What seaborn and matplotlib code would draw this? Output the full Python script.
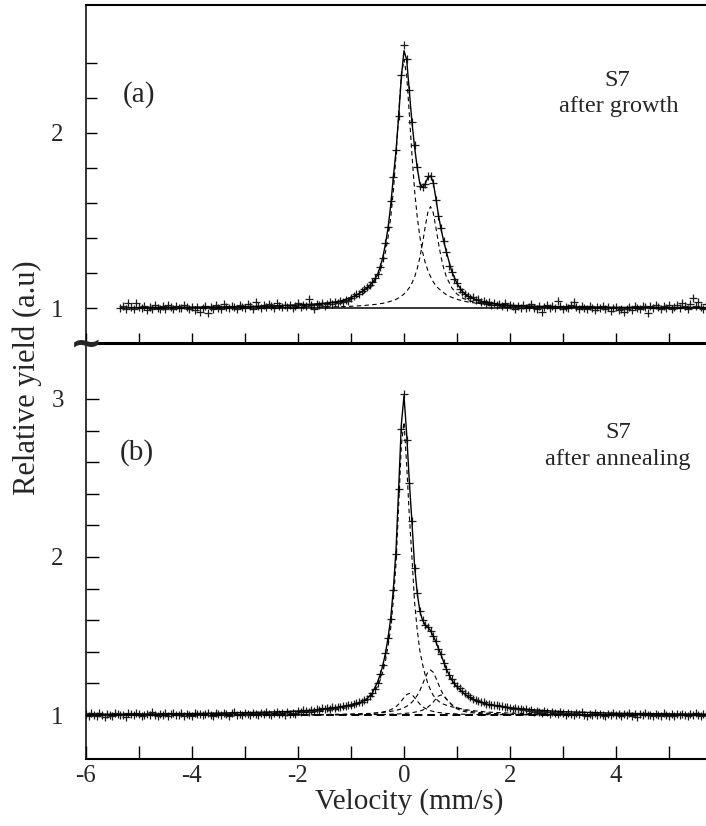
import matplotlib
matplotlib.use("Agg")
import matplotlib.pyplot as plt
from matplotlib.ticker import FixedLocator, FixedFormatter
import seaborn as sns

# velocity of each channel (mm/s), same for both spectra
velocity = [
    -6.00, -5.95, -5.90, -5.85, -5.80, -5.75, -5.70, -5.65, -5.60, -5.55,
    -5.50, -5.45, -5.40, -5.35, -5.30, -5.25, -5.20, -5.15, -5.10, -5.05,
    -5.00, -4.95, -4.90, -4.85, -4.80, -4.75, -4.70, -4.65, -4.60, -4.55,
    -4.50, -4.45, -4.40, -4.35, -4.30, -4.25, -4.20, -4.15, -4.10, -4.05,
    -4.00, -3.95, -3.90, -3.85, -3.80, -3.75, -3.70, -3.65, -3.60, -3.55,
    -3.50, -3.45, -3.40, -3.35, -3.30, -3.25, -3.20, -3.15, -3.10, -3.05,
    -3.00, -2.95, -2.90, -2.85, -2.80, -2.75, -2.70, -2.65, -2.60, -2.55,
    -2.50, -2.45, -2.40, -2.35, -2.30, -2.25, -2.20, -2.15, -2.10, -2.05,
    -2.00, -1.95, -1.90, -1.85, -1.80, -1.75, -1.70, -1.65, -1.60, -1.55,
    -1.50, -1.45, -1.40, -1.35, -1.30, -1.25, -1.20, -1.15, -1.10, -1.05,
    -1.00, -0.95, -0.90, -0.85, -0.80, -0.75, -0.70, -0.65, -0.60, -0.55,
    -0.50, -0.45, -0.40, -0.35, -0.30, -0.25, -0.20, -0.15, -0.10, -0.05,
    0.00, 0.05, 0.10, 0.15, 0.20, 0.25, 0.30, 0.35, 0.40, 0.45,
    0.50, 0.55, 0.60, 0.65, 0.70, 0.75, 0.80, 0.85, 0.90, 0.95,
    1.00, 1.05, 1.10, 1.15, 1.20, 1.25, 1.30, 1.35, 1.40, 1.45,
    1.50, 1.55, 1.60, 1.65, 1.70, 1.75, 1.80, 1.85, 1.90, 1.95,
    2.00, 2.05, 2.10, 2.15, 2.20, 2.25, 2.30, 2.35, 2.40, 2.45,
    2.50, 2.55, 2.60, 2.65, 2.70, 2.75, 2.80, 2.85, 2.90, 2.95,
    3.00, 3.05, 3.10, 3.15, 3.20, 3.25, 3.30, 3.35, 3.40, 3.45,
    3.50, 3.55, 3.60, 3.65, 3.70, 3.75, 3.80, 3.85, 3.90, 3.95,
    4.00, 4.05, 4.10, 4.15, 4.20, 4.25, 4.30, 4.35, 4.40, 4.45,
    4.50, 4.55, 4.60, 4.65, 4.70, 4.75, 4.80, 4.85, 4.90, 4.95,
    5.00, 5.05, 5.10, 5.15, 5.20, 5.25, 5.30, 5.35, 5.40, 5.45,
    5.50, 5.55, 5.60, 5.65, 5.70,
]

# (a) S7 after growth -- recorded from -5.35 mm/s on
yield_growth = [
    1.002, 1.012, 0.995, 1.030, 1.008, 0.992, 1.028,
    1.004, 0.998, 1.011, 0.990, 1.006, 0.996, 1.015, 1.001, 0.993, 1.009,
    0.997, 1.020, 1.005, 0.994, 1.012, 1.003, 0.999, 1.016, 1.006, 0.995,
    1.004, 0.991, 1.008, 0.978, 1.002, 1.013, 0.970, 1.005, 0.996, 1.017,
    1.003, 0.993, 1.021, 1.007, 0.998, 1.014, 1.004, 0.995, 1.019, 1.008,
    1.001, 1.023, 1.010, 0.997, 1.036, 1.012, 1.003, 1.018, 1.006, 1.024,
    1.009, 0.999, 1.026, 1.011, 1.004, 1.020, 1.008, 1.016, 0.998, 1.013,
    1.028, 1.007, 1.019, 1.012, 1.050, 1.015, 0.995, 1.022, 1.018, 1.031,
    1.012, 1.025, 1.037, 1.021, 1.034, 1.028, 1.041, 1.036, 1.048, 1.043,
    1.060, 1.066, 1.078, 1.082, 1.096, 1.108, 1.118, 1.130, 1.148, 1.172,
    1.195, 1.232, 1.285, 1.370, 1.462, 1.612, 1.748, 1.905, 2.095, 2.330,
    2.505, 2.420, 2.245, 2.060, 1.930, 1.805, 1.700, 1.690, 1.710, 1.752,
    1.755, 1.715, 1.615, 1.525, 1.455, 1.385, 1.318, 1.240, 1.205, 1.165,
    1.142, 1.110, 1.092, 1.078, 1.066, 1.058, 1.061, 1.045, 1.049, 1.036,
    1.041, 1.028, 1.034, 1.020, 1.031, 1.016, 1.024, 1.011, 1.026, 1.005,
    1.018, 1.009, 0.996, 1.014, 1.003, 1.019, 0.999, 1.008, 1.021, 1.002,
    0.993, 1.011, 0.977, 1.006, 1.015, 0.998, 1.009, 1.002, 1.040, 1.013,
    0.995, 1.007, 1.001, 1.018, 1.034, 1.004, 0.992, 1.010, 1.003, 0.996,
    1.014, 1.002, 0.989, 1.007, 0.998, 1.012, 0.993, 1.005, 0.985, 0.999,
    1.008, 0.988, 0.994, 0.980, 0.997, 1.006, 0.990, 1.011, 1.002, 0.996,
    1.013, 1.004, 0.970, 1.009, 0.999, 1.017, 1.006, 0.994, 1.010, 1.001,
    1.015, 0.997, 1.008, 1.019, 1.003, 1.030, 1.011, 0.996, 1.022, 1.057,
    1.014, 1.036, 1.008, 0.993, 1.024,
]

# (b) S7 after annealing
yield_anneal = [
    1.004, 0.992, 1.011, 1.000, 0.996, 1.013, 1.003, 0.989, 1.008, 1.002,
    0.995, 1.015, 1.006, 0.998, 1.001, 0.990, 1.010, 1.004, 0.997, 1.012,
    1.007, 0.993, 1.002, 1.009, 0.999, 1.016, 1.003, 0.994, 1.006, 1.000,
    1.011, 0.991, 1.005, 1.014, 0.998, 1.003, 1.010, 0.996, 1.007, 1.001,
    0.993, 1.012, 1.004, 1.009, 0.997, 1.006, 1.015, 1.001, 0.995, 1.010,
    1.004, 0.999, 1.013, 1.007, 0.996, 1.011, 1.021, 1.003, 1.008, 0.998,
    1.012, 1.006, 1.001, 1.015, 1.009, 0.999, 1.011, 1.004, 1.017, 1.008,
    1.002, 1.013, 1.020, 1.006, 1.011, 1.003, 1.016, 1.009, 1.014, 1.005,
    1.026, 1.018, 1.031, 1.024, 1.020, 1.033, 1.027, 1.036, 1.030, 1.045,
    1.038, 1.042, 1.036, 1.048, 1.044, 1.052, 1.049, 1.057, 1.055, 1.061,
    1.064, 1.070, 1.073, 1.080, 1.083, 1.094, 1.104, 1.118, 1.137, 1.165,
    1.205, 1.262, 1.318, 1.395, 1.485, 1.610, 1.790, 2.020, 2.430, 2.810,
    3.030, 2.740, 2.470, 2.230, 1.930, 1.775, 1.660, 1.600, 1.570, 1.560,
    1.530, 1.500, 1.470, 1.420, 1.385, 1.330, 1.290, 1.255, 1.225, 1.200,
    1.182, 1.168, 1.155, 1.140, 1.128, 1.114, 1.103, 1.095, 1.088, 1.083,
    1.080, 1.072, 1.070, 1.066, 1.061, 1.063, 1.055, 1.057, 1.048, 1.052,
    1.045, 1.041, 1.046, 1.035, 1.038, 1.030, 1.036, 1.024, 1.031, 1.019,
    1.027, 1.022, 1.012, 1.024, 1.016, 1.009, 1.020, 1.013, 1.004, 1.017,
    1.010, 1.002, 1.014, 1.008, 0.999, 1.011, 1.005, 1.016, 1.003, 0.996,
    1.009, 1.001, 1.012, 0.997, 1.006, 1.000, 0.992, 1.008, 1.003, 1.013,
    0.998, 1.005, 0.994, 1.007, 1.001, 1.011, 0.996, 1.004, 0.990, 1.006,
    1.000, 1.012, 0.997, 1.003, 0.993, 1.008, 1.001, 0.995, 1.010, 1.002,
    0.996, 1.007, 0.991, 1.004, 0.998, 1.009, 1.001, 0.994, 1.006, 0.999,
    1.011, 1.003, 0.995, 1.005, 0.998,
]

# fitted curves, sampled on a coarser grid
fit_velocity = [
    -6.0, -5.0, -4.0, -3.0, -2.5, -2.0, -1.7, -1.4, -1.2, -1.0,
    -0.9, -0.8, -0.7, -0.6, -0.5, -0.45, -0.4, -0.35, -0.3, -0.25,
    -0.2, -0.15, -0.1, -0.05, 0.0, 0.05, 0.1, 0.15, 0.2, 0.25,
    0.3, 0.35, 0.4, 0.45, 0.5, 0.55, 0.6, 0.65, 0.7, 0.75,
    0.8, 0.9, 1.0, 1.1, 1.2, 1.4, 1.6, 1.8, 2.0, 2.5,
    3.0, 4.0, 5.0, 5.7,
]

# (a) fit starts at -5.0 (fit_velocity[1:])
growth_total = [
    1.003, 1.005, 1.008, 1.012, 1.018, 1.023, 1.030, 1.040, 1.060,
    1.074, 1.092, 1.114, 1.143, 1.190, 1.235, 1.290, 1.365, 1.460, 1.590,
    1.750, 1.900, 2.100, 2.320, 2.470, 2.420, 2.240, 2.060, 1.920, 1.800,
    1.710, 1.690, 1.710, 1.745, 1.755, 1.720, 1.630, 1.530, 1.450, 1.380,
    1.320, 1.210, 1.140, 1.095, 1.068, 1.042, 1.029, 1.021, 1.016, 1.010,
    1.007, 1.004, 1.003, 1.002,
]
growth_site1 = [
    1.002, 1.003, 1.006, 1.008, 1.013, 1.018, 1.026, 1.035, 1.050,
    1.061, 1.076, 1.099, 1.129, 1.180, 1.215, 1.260, 1.320, 1.405, 1.520,
    1.670, 1.875, 2.110, 2.330, 2.420, 2.330, 2.110, 1.875, 1.670, 1.520,
    1.405, 1.320, 1.260, 1.215, 1.180, 1.150, 1.129, 1.112, 1.099, 1.087,
    1.076, 1.061, 1.050, 1.041, 1.035, 1.026, 1.020, 1.016, 1.013, 1.008,
    1.006, 1.003, 1.002, 1.002,
]
growth_site2 = [
    1.001, 1.001, 1.002, 1.003, 1.004, 1.005, 1.006, 1.008, 1.010,
    1.012, 1.013, 1.016, 1.019, 1.022, 1.025, 1.027, 1.030, 1.034, 1.039,
    1.044, 1.050, 1.058, 1.068, 1.080, 1.096, 1.116, 1.143, 1.178, 1.226,
    1.290, 1.371, 1.464, 1.546, 1.580, 1.546, 1.464, 1.371, 1.290, 1.226,
    1.178, 1.116, 1.080, 1.058, 1.044, 1.027, 1.019, 1.013, 1.010, 1.006,
    1.004, 1.002, 1.001, 1.001,
]

# (b) fit over the whole grid
anneal_total = [
    1.004, 1.006, 1.009, 1.015, 1.019, 1.025, 1.031, 1.042, 1.052, 1.064,
    1.072, 1.083, 1.103, 1.138, 1.208, 1.255, 1.315, 1.390, 1.490, 1.615,
    1.800, 2.050, 2.440, 2.840, 3.020, 2.780, 2.480, 2.220, 1.940, 1.770,
    1.655, 1.600, 1.570, 1.555, 1.535, 1.500, 1.465, 1.420, 1.380, 1.335,
    1.290, 1.222, 1.178, 1.145, 1.118, 1.084, 1.066, 1.055, 1.046, 1.031,
    1.021, 1.011, 1.007, 1.005,
]
anneal_site1 = [
    1.001, 1.002, 1.003, 1.006, 1.009, 1.013, 1.018, 1.027, 1.037, 1.053,
    1.064, 1.078, 1.098, 1.130, 1.180, 1.220, 1.276, 1.345, 1.438, 1.553,
    1.726, 1.961, 2.330, 2.705, 2.854, 2.585, 2.264, 1.995, 1.712, 1.537,
    1.405, 1.321, 1.253, 1.200, 1.159, 1.125, 1.105, 1.088, 1.075, 1.068,
    1.062, 1.052, 1.045, 1.038, 1.032, 1.024, 1.018, 1.015, 1.012, 1.008,
    1.006, 1.003, 1.002, 1.002,
]
anneal_site2 = [
    1.000, 1.000, 1.000, 1.001, 1.001, 1.001, 1.002, 1.002, 1.003, 1.004,
    1.005, 1.007, 1.008, 1.010, 1.014, 1.016, 1.019, 1.023, 1.027, 1.034,
    1.042, 1.053, 1.069, 1.088, 1.110, 1.129, 1.137, 1.129, 1.110, 1.088,
    1.069, 1.053, 1.042, 1.034, 1.027, 1.023, 1.019, 1.016, 1.014, 1.012,
    1.010, 1.008, 1.007, 1.005, 1.004, 1.003, 1.002, 1.002, 1.002, 1.001,
    1.001, 1.000, 1.000, 1.000,
]
anneal_site3 = [
    1.000, 1.000, 1.001, 1.001, 1.002, 1.002, 1.003, 1.004, 1.005, 1.006,
    1.007, 1.008, 1.009, 1.011, 1.013, 1.015, 1.016, 1.018, 1.020, 1.023,
    1.026, 1.029, 1.034, 1.039, 1.046, 1.055, 1.066, 1.081, 1.100, 1.124,
    1.156, 1.195, 1.236, 1.271, 1.285, 1.271, 1.236, 1.195, 1.156, 1.124,
    1.100, 1.066, 1.046, 1.034, 1.026, 1.016, 1.011, 1.008, 1.006, 1.003,
    1.002, 1.001, 1.001, 1.000,
]
anneal_site4 = [
    1.000, 1.000, 1.000, 1.000, 1.000, 1.001, 1.001, 1.001, 1.001, 1.002,
    1.002, 1.002, 1.003, 1.003, 1.003, 1.004, 1.004, 1.004, 1.005, 1.005,
    1.006, 1.007, 1.007, 1.008, 1.010, 1.011, 1.013, 1.015, 1.018, 1.021,
    1.025, 1.031, 1.039, 1.050, 1.064, 1.081, 1.102, 1.120, 1.127, 1.120,
    1.102, 1.064, 1.039, 1.025, 1.018, 1.010, 1.006, 1.004, 1.003, 1.002,
    1.001, 1.000, 1.000, 1.000,
]

sns.set_style("ticks")
plt.rcParams["font.family"] = ["Liberation Serif", "DejaVu Serif"]
plt.rcParams["axes.unicode_minus"] = False

fig = plt.figure(figsize=(7.06, 8.26), dpi=100)
ax_a = fig.add_axes([0.1218, 0.5847, 0.9159, 0.4092])
ax_b = fig.add_axes([0.1218, 0.0811, 0.9159, 0.5036])

vel_a = velocity[13:]
dash = (0, (4, 3))

# --- (a) after growth ---
ax_a.hlines(1.0, vel_a[0], vel_a[-1], color="black", lw=1.1)
sns.lineplot(x=fit_velocity[1:], y=growth_site1, color="black", lw=0.8,
             linestyle=dash, sort=False, estimator=None, ax=ax_a)
sns.lineplot(x=fit_velocity[1:], y=growth_site2, color="black", lw=0.8,
             linestyle=dash, sort=False, estimator=None, ax=ax_a)
sns.lineplot(x=fit_velocity[1:], y=growth_total, color="black", lw=1.0,
             sort=False, estimator=None, ax=ax_a)
sns.scatterplot(x=vel_a, y=yield_growth, marker="+", color="#1c1c1c",
                s=34, linewidth=0.9, ax=ax_a)

# --- (b) after annealing ---
ax_b.axhline(1.0, color="black", lw=1.4, linestyle=(0, (4, 2.5)))
for site in [anneal_site1, anneal_site2, anneal_site3, anneal_site4]:
    sns.lineplot(x=fit_velocity, y=site, color="black", lw=0.8,
                 linestyle=dash, sort=False, estimator=None, ax=ax_b)
sns.lineplot(x=fit_velocity, y=anneal_total, color="black", lw=1.0,
             sort=False, estimator=None, ax=ax_b)
sns.scatterplot(x=velocity, y=yield_anneal, marker="+", color="#1c1c1c",
                s=34, linewidth=0.9, ax=ax_b)

# axes limits and ticks
ax_a.set_xlim(-6, 6.2)
ax_b.set_xlim(-6, 6.2)
ax_a.set_ylim(0.8, 2.731)
ax_b.set_ylim(0.7215, 3.354)

xt = list(range(-6, 7))
ax_a.xaxis.set_major_locator(FixedLocator(xt))
ax_b.xaxis.set_major_locator(FixedLocator(xt))
ax_b.xaxis.set_major_formatter(FixedFormatter(
    [str(v) if v % 2 == 0 and v < 6 else "" for v in xt]))

ax_a.yaxis.set_major_locator(FixedLocator([1, 2]))
ax_a.yaxis.set_minor_locator(FixedLocator([1.2, 1.4, 1.6, 1.8, 2.2, 2.4]))
ax_b.yaxis.set_major_locator(FixedLocator([1, 2, 3]))
ax_b.yaxis.set_minor_locator(FixedLocator([1.2, 1.4, 1.6, 1.8, 2.2, 2.4, 2.6, 2.8]))
ax_a.yaxis.set_major_formatter(FixedFormatter(["1", "2"]))
ax_b.yaxis.set_major_formatter(FixedFormatter(["1", "2", "3"]))

ax_a.tick_params(axis="x", which="both", direction="in", length=7.5, width=1.0,
                 labelbottom=False, top=False, color="black")
ax_a.tick_params(axis="y", which="both", direction="in", length=8, width=1.0,
                 pad=16, labelsize=18, right=False, color="black")
ax_b.tick_params(axis="x", which="both", direction="in", length=9.5, width=1.0,
                 pad=4.5, labelsize=18, top=False, color="black")
ax_b.tick_params(axis="y", which="both", direction="in", length=9.5, width=1.0,
                 pad=16, labelsize=18, right=False, color="black")

for ax in (ax_a, ax_b):
    ax.patch.set_alpha(0)
    for sp in ax.spines.values():
        sp.set_color("black")
    ax.spines["left"].set_linewidth(1.1)
ax_a.spines["top"].set_linewidth(1.5)
ax_a.spines["bottom"].set_linewidth(2.2)
ax_b.spines["top"].set_visible(False)
ax_b.spines["bottom"].set_linewidth(1.5)
ax_a.set_zorder(2)

# labels and annotations
ax_b.set_xlabel("Velocity (mm/s)", fontsize=21)
ax_b.xaxis.set_label_coords(0.5, -0.071)
ax_b.set_ylabel("Relative yield (a.u)", fontsize=22)
ax_b.yaxis.set_label_coords(-0.068, 0.916)
ax_a.set_ylabel("")

ax_a.text(-5.0, 2.22, "(a)", fontsize=21, ha="center", va="center")
ax_b.text(-5.04, 2.66, "(b)", fontsize=21, ha="center", va="center")
ax_a.text(4.02, 2.30, "S7", fontsize=17.5, ha="center", va="center")
ax_a.text(4.05, 2.15, "after growth", fontsize=17.5, ha="center", va="center")
ax_b.text(4.04, 2.785, "S7", fontsize=17.5, ha="center", va="center")
ax_b.text(4.04, 2.614, "after annealing", fontsize=17.5, ha="center", va="center")

# axis break mark
fig.text(0.1218, 1 - 345 / 826, "~", fontsize=28, fontweight="bold",
         family="DejaVu Sans", ha="center", va="center")

fig.savefig("out.png", dpi=100)
